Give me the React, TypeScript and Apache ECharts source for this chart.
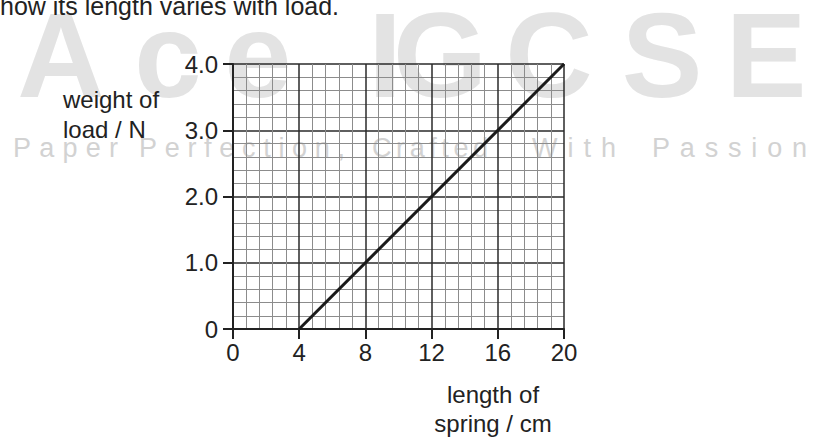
import React, { useEffect, useRef } from 'react';
import * as echarts from 'echarts';

// ---- data ----
const lengthCm = [4, 20];
const weightN = [0, 4.0];
const yTickLabels = ['0', '1.0', '2.0', '3.0', '4.0'];
const yAxisNameLines = ['weight of', 'load / N'];
const xAxisNameLines = ['length of', 'spring / cm'];
const headerText = 'how its length varies with load.';
const watermarkLetters = ['A', 'c', 'e', 'I', 'G', 'C', 'S', 'E'];
const taglineWords = ['Paper', 'Perfection,', 'Crafted', 'With', 'Passion'];

// ---- layout ----
const W = 814;
const H = 441;
const FONT = "'Liberation Sans', Arial, Helvetica, sans-serif";
const INK = '#222222';
const watermarkCenters = [61, 168, 258, 385, 440, 549, 662, 766];
const taglineSpans = [
  [13, 118],
  [139, 345],
  [372, 488],
  [532, 616],
  [652, 807],
];
// distance from the "central" baseline to the alphabetic baseline, in em
const CENTRAL = 0.3465;

function taglineElements(): any[] {
  const size = 27;
  const baseline = 157;
  const canvas = document.createElement('canvas');
  const ctx = canvas.getContext('2d') as CanvasRenderingContext2D;
  ctx.font = `${size}px 'Liberation Sans', Arial, sans-serif`;
  const out: any[] = [];
  taglineWords.forEach((word, wi) => {
    const chars = word.split('');
    const widths = chars.map((c) => ctx.measureText(c).width);
    const total = widths.reduce((a, b) => a + b, 0);
    const [l, r] = taglineSpans[wi];
    const gap = (r - l - total) / Math.max(1, chars.length - 1);
    let x = l;
    chars.forEach((c, i) => {
      out.push({
        type: 'text',
        x,
        y: baseline - CENTRAL * size,
        z: -10,
        silent: true,
        style: {
          text: c,
          font: `${size}px ${FONT}`,
          fill: '#d2d2d2',
          align: 'left',
          verticalAlign: 'middle',
        },
      });
      x += widths[i] + gap;
    });
  });
  return out;
}

export default function App() {
  const ref = useRef<HTMLDivElement>(null);

  useEffect(() => {
    document.body.style.margin = '0';
    if (!ref.current) return;
    const chart = echarts.init(ref.current, undefined, { renderer: 'svg' });

    const bigSize = 121;
    const bigLetters = watermarkLetters.map((c, i) => ({
      type: 'text',
      x: watermarkCenters[i],
      y: 97 - CENTRAL * bigSize,
      z: -10,
      silent: true,
      style: {
        text: c,
        font: `bold ${bigSize}px ${FONT}`,
        fill: '#e3e3e3',
        align: 'center',
        verticalAlign: 'middle',
      },
    }));

    const label = (text: string, x: number, baseline: number, align: string, size = 24) => ({
      type: 'text',
      x,
      y: baseline - CENTRAL * size,
      z: 20,
      style: {
        text,
        font: `${size}px ${FONT}`,
        fill: INK,
        align,
        verticalAlign: 'middle',
      },
    });

    const option: any = {
      animation: false,
      backgroundColor: '#ffffff',
      grid: { left: 233, right: W - 564, top: 64, bottom: H - 329, containLabel: false },
      xAxis: {
        type: 'value',
        min: 0,
        max: 20,
        interval: 4,
        z: 5,
        axisLine: { show: true, onZero: false, lineStyle: { color: INK, width: 2 } },
        axisTick: { show: true, length: 10, lineStyle: { color: INK, width: 2 } },
        axisLabel: {
          show: true,
          margin: 11,
          fontSize: 24,
          fontFamily: FONT,
          color: INK,
          formatter: (v: number) => String(v),
        },
        splitLine: { show: true, lineStyle: { color: '#2a2a2a', width: 1.5 } },
        minorTick: { show: false, splitNumber: 5 },
        minorSplitLine: { show: true, lineStyle: { color: '#8c8c8c', width: 1 } },
      },
      yAxis: {
        type: 'value',
        min: 0,
        max: 4,
        interval: 1,
        z: 5,
        axisLine: { show: true, onZero: false, lineStyle: { color: INK, width: 2 } },
        axisTick: { show: true, length: 10, lineStyle: { color: INK, width: 2 } },
        axisLabel: {
          show: true,
          margin: 15,
          fontSize: 24,
          fontFamily: FONT,
          color: INK,
          formatter: (v: number) => yTickLabels[Math.round(v)] ?? String(v),
        },
        splitLine: { show: true, lineStyle: { color: '#2a2a2a', width: 1.5 } },
        minorTick: { show: false, splitNumber: 5 },
        minorSplitLine: { show: true, lineStyle: { color: '#8c8c8c', width: 1 } },
      },
      series: [
        {
          type: 'line',
          z: 10,
          data: lengthCm.map((x, i) => [x, weightN[i]]),
          symbol: 'none',
          lineStyle: { color: '#1a1a1a', width: 3 },
        },
      ],
      graphic: [
        ...bigLetters,
        ...taglineElements(),
        label(headerText, 0, 15, 'left', 25),
        label(yAxisNameLines[0], 63, 108, 'left'),
        label(yAxisNameLines[1], 63, 138, 'left'),
        label(xAxisNameLines[0], 493, 403, 'center'),
        label(xAxisNameLines[1], 493, 432, 'center'),
      ],
    };

    chart.setOption(option);
    return () => chart.dispose();
  }, []);

  return <div ref={ref} style={{ width: W, height: H }} />;
}
